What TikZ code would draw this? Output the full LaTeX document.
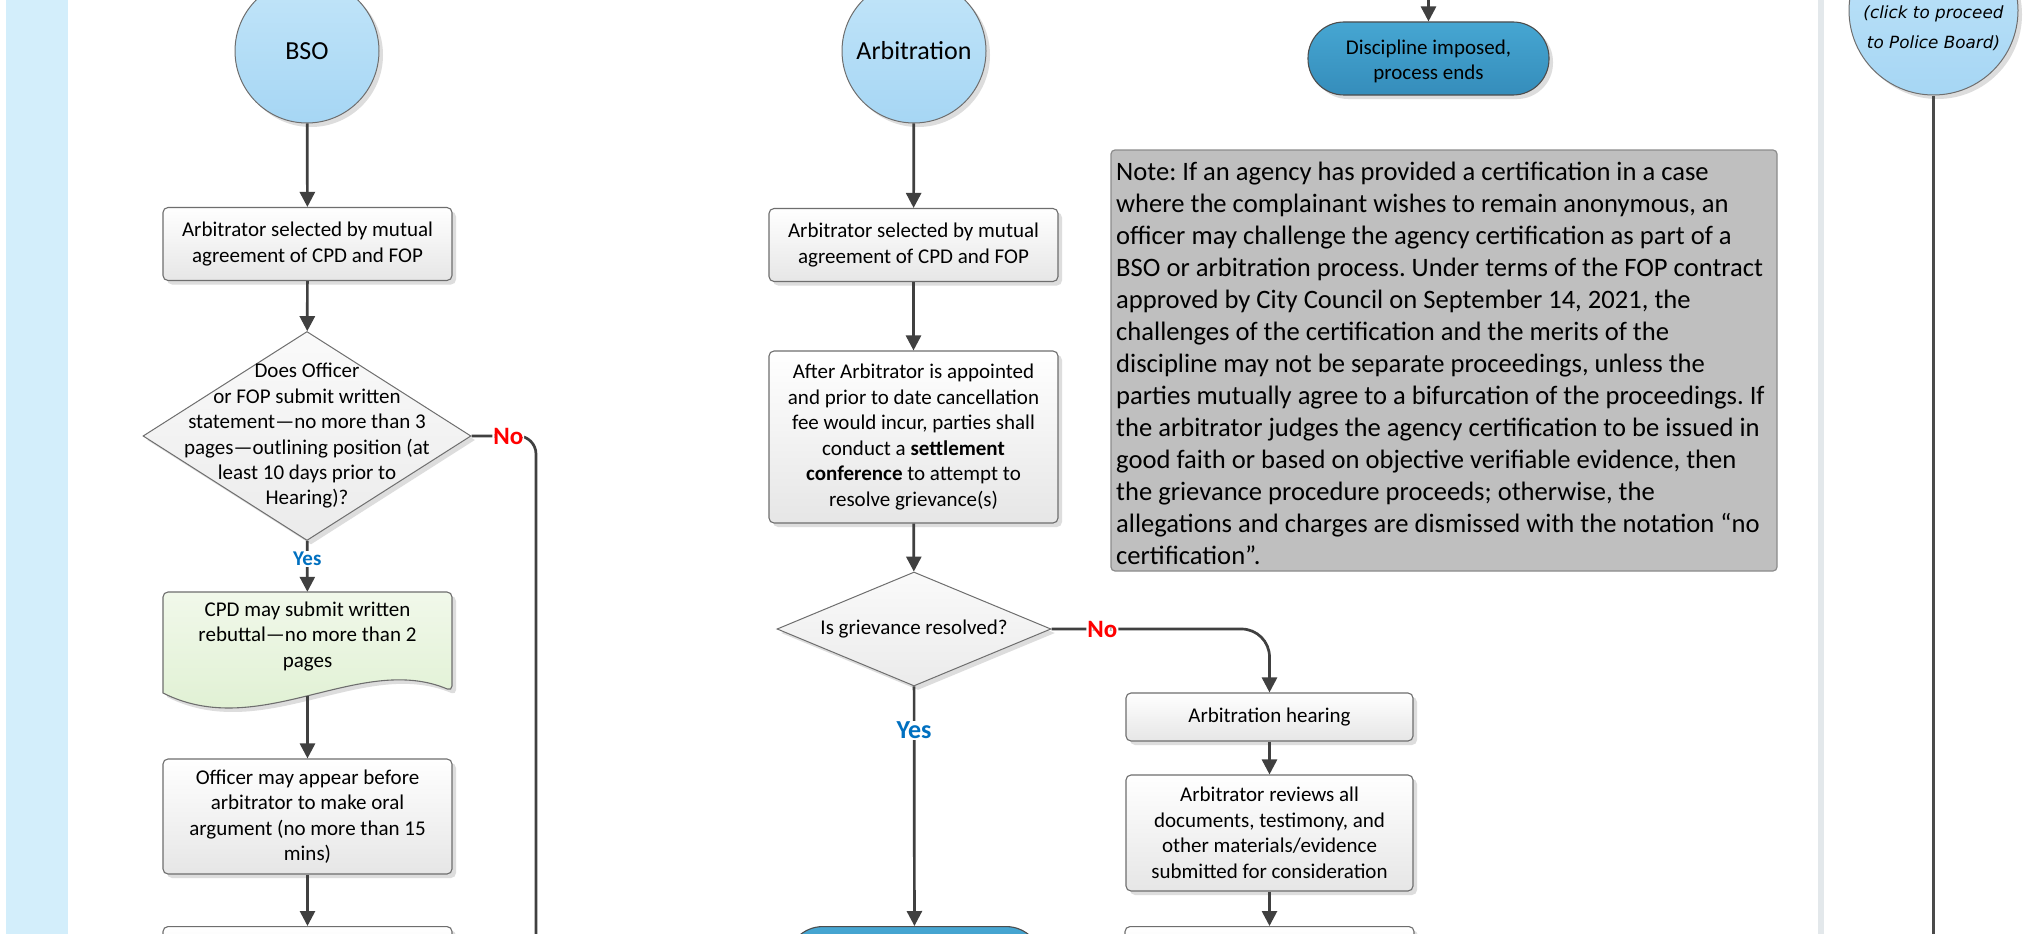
\documentclass[tikz,border=0pt]{standalone}
\usepackage{fontspec}
\setmainfont{Carlito}
\newfontfamily\verdf{DejaVu Sans}
\usetikzlibrary{arrows.meta,shapes.geometric,shadows,calc}
\frenchspacing
\definecolor{bandc}{HTML}{D3EEFB}
\definecolor{sepc}{HTML}{E3E8EB}
\definecolor{cline}{HTML}{404040}
\definecolor{bord}{HTML}{6E6E6E}
\definecolor{circtop}{HTML}{C2E5F9}
\definecolor{circbot}{HTML}{A6D6F4}
\definecolor{boxbot}{HTML}{E6E6E6}
\definecolor{diatop}{HTML}{FAFAFA}
\definecolor{diabot}{HTML}{EBEBEB}
\definecolor{doctop}{HTML}{F1F8EA}
\definecolor{docbot}{HTML}{DCEFCE}
\definecolor{termtop}{HTML}{46A6D2}
\definecolor{termbot}{HTML}{358DBB}
\definecolor{termbord}{HTML}{4D4D4D}
\definecolor{notefill}{HTML}{BFBFBF}
\definecolor{notebord}{HTML}{8C8C8C}
\definecolor{nored}{HTML}{FF0000}
\definecolor{yesblue}{HTML}{0070C0}
\definecolor{shad}{HTML}{DDDDDD}
\definecolor{pbc}{HTML}{4A4A4A}
\newcommand\myfs[2]{\fontsize{#1pt}{#2pt}\selectfont}
\tikzset{
  shd/.style={drop shadow={shadow xshift=4pt, shadow yshift=-4pt, fill=shad, opacity=1}},
  conn/.style={draw=cline, line width=2.7pt, -{Triangle[length=15pt,width=15pt]}},
  plainline/.style={draw=cline, line width=2.7pt},
  pbline/.style={draw=pbc, line width=3pt},
  startc/.style={circle, draw=bord, line width=1pt, top color=circtop, bottom color=circbot, inner sep=0pt, minimum size=144pt, shd, font=\myfs{26}{31}},
  procbox/.style={rectangle, rounded corners=5pt, draw=bord, line width=1.1pt, top color=white, bottom color=boxbot, inner sep=0pt, align=center, font=\myfs{21}{25.5}, shd},
  decis/.style={diamond, draw=bord, line width=1pt, top color=diatop, bottom color=diabot, inner sep=0pt, shd},
  docstyle/.style={draw=bord, line width=1.1pt, top color=doctop, bottom color=docbot, shd},
  termbox/.style={rectangle, rounded corners=36pt, draw=termbord, line width=1.1pt, top color=termtop, bottom color=termbot, inner sep=0pt, align=center, font=\myfs{21}{25}, shd},
  notebox/.style={rectangle, rounded corners=4pt, draw=notebord, line width=1.2pt, fill=notefill, inner sep=0pt},
  nolab/.style={fill=white, inner sep=1pt, text=nored, font=\bfseries\myfs{25}{30}},
  yeslab/.style={fill=white, inner sep=1pt, text=yesblue, font=\bfseries\myfs{21}{25}},
  yesbig/.style={fill=white, inner sep=1pt, text=yesblue, font=\bfseries\myfs{26}{31}},
  txt/.style={align=center, inner sep=0pt, font=\myfs{21}{25.5}}
}
\begin{document}
\begin{tikzpicture}[x=1pt,y=-1pt]
\useasboundingbox (0,0) rectangle (2030,934);
\clip (0,0) rectangle (2030,934);
\fill[white] (0,0) rectangle (2030,934);
\fill[bandc] (6,0) rectangle (68,934);
\fill[sepc] (1818,0) rectangle (1824,934);

% ---------------- BSO column
\node[startc] (bso) at (307,51) {BSO};
\node[procbox, minimum width=289pt, minimum height=73pt] (b1) at (307.5,244) {Arbitrator selected by mutual\\agreement of CPD and FOP};
\node[decis, minimum width=328pt, minimum height=209pt,
  label={[txt, font=\myfs{21}{25.4}]center:{Does Officer\\or FOP submit written\\statement—no more than 3\\pages—outlining position (at\\least 10 days prior to\\Hearing)?}}] (bd) at (307,436) {};
\node[inner sep=0pt, minimum width=289pt, minimum height=104pt] (b2) at (307.5,644) {};
\path[docstyle, rounded corners=5pt] (163,693) -- (163,592) -- (452,592) -- (452,691) [sharp corners] .. controls (360,652) and (260,742) .. (163,693) -- cycle;
\node[txt] (b2t) at (307.5,636.5) {CPD may submit written\\rebuttal—no more than 2\\pages};
\node[procbox, minimum width=289pt, minimum height=115pt] (b3) at (307.5,816.5) {Officer may appear before\\arbitrator to make oral\\argument (no more than 15\\mins)};
\node[procbox, minimum width=289pt, minimum height=80pt, anchor=north] (b4) at (307.5,926) {};
\coordinate (bnoend) at (536,950);

\draw[conn] (bso) -- (b1);
\draw[conn] (b1) -- (bd);
\draw[conn] (bd) -- node[yeslab, pos=0.35] {Yes} (b2);
\draw[conn] (b2) -- (b3);
\draw[conn] (b3) -- (b4);
\draw[plainline, rounded corners=18pt] (bd.east) -- node[nolab, pos=0.57] {No} (bnoend |- bd.east) -- (bnoend);

% ---------------- Arbitration column
\node[startc] (arb) at (914,51) {Arbitration};
\node[procbox, minimum width=289pt, minimum height=73pt] (a1) at (913.5,245) {Arbitrator selected by mutual\\agreement of CPD and FOP};
\node[procbox, minimum width=289pt, minimum height=172pt] (a2) at (913.5,437) {After Arbitrator is appointed\\and prior to date cancellation\\fee would incur, parties shall\\conduct a \textbf{settlement}\\\textbf{conference} to attempt to\\resolve grievance(s)};
\node[decis, minimum width=274pt, minimum height=114pt,
  label={[txt]center:{Is grievance resolved?}}] (ad) at (914,629) {};
\node[termbox, minimum width=255pt, minimum height=75pt, anchor=north] (a3) at (914.5,926) {};
\node[procbox, minimum width=287pt, minimum height=48pt] (ah) at (1269.5,717) {Arbitration hearing};
\node[procbox, minimum width=287pt, minimum height=116pt] (ar) at (1269.5,833) {Arbitrator reviews all\\documents, testimony, and\\other materials/evidence\\submitted for consideration};
\node[procbox, minimum width=289pt, minimum height=80pt, anchor=north] (a5) at (1269.5,926) {};

\draw[conn] (arb) -- (a1);
\draw[conn] (a1) -- (a2);
\draw[conn] (a2) -- (ad);
\draw[conn] (ad) -- node[yesbig, pos=0.183] {Yes} (a3);
\draw[conn, rounded corners=28pt] (ad.east) -- node[nolab, pos=0.233] {No} (ah.north |- ad.east) -- (ah.north);
\draw[conn] (ah) -- (ar);
\draw[conn] (ar) -- (a5);

% ---------------- Discipline imposed
\coordinate (dtop) at (1428.5,-10);
\node[termbox, minimum width=241pt, minimum height=73pt,
  label={[txt, font=\myfs{21}{25}, yshift=-2.5pt]center:{Discipline imposed,\\process ends}}] (disc) at (1428.5,58.5) {};
\draw[conn] (dtop) -- (disc);

% ---------------- Note
\node[notebox, minimum width=666pt, minimum height=421pt] (note) at (1444,360.5) {};
\node[anchor=west, align=left, inner sep=0pt, font=\myfs{26.6}{32}] (notetext) at (1116,363.5) {Note: If an agency has provided a certification in a case\\where the complainant wishes to remain anonymous, an\\officer may challenge the agency certification as part of a\\BSO or arbitration process. Under terms of the FOP contract\\approved by City Council on September 14, 2021, the\\challenges of the certification and the merits of the\\discipline may not be separate proceedings, unless the\\parties mutually agree to a bifurcation of the proceedings. If\\the arbitrator judges the agency certification to be issued in\\good faith or based on objective verifiable evidence, then\\the grievance procedure proceeds; otherwise, the\\allegations and charges are dismissed with the notation “no\\certification”.};

% ---------------- Police Board
\coordinate (pbend) at (1933.5,950);
\node[startc, minimum size=169pt] (pb) at (1933.5,10.5) {};
\draw[pbline] (pb) -- (pbend);
\node[align=center, inner sep=0pt, font=\verdf\itshape\myfs{16.8}{30}] (pbt) at (1933.5,28.3) {(click to proceed\\to Police Board)};
\end{tikzpicture}
\end{document}
